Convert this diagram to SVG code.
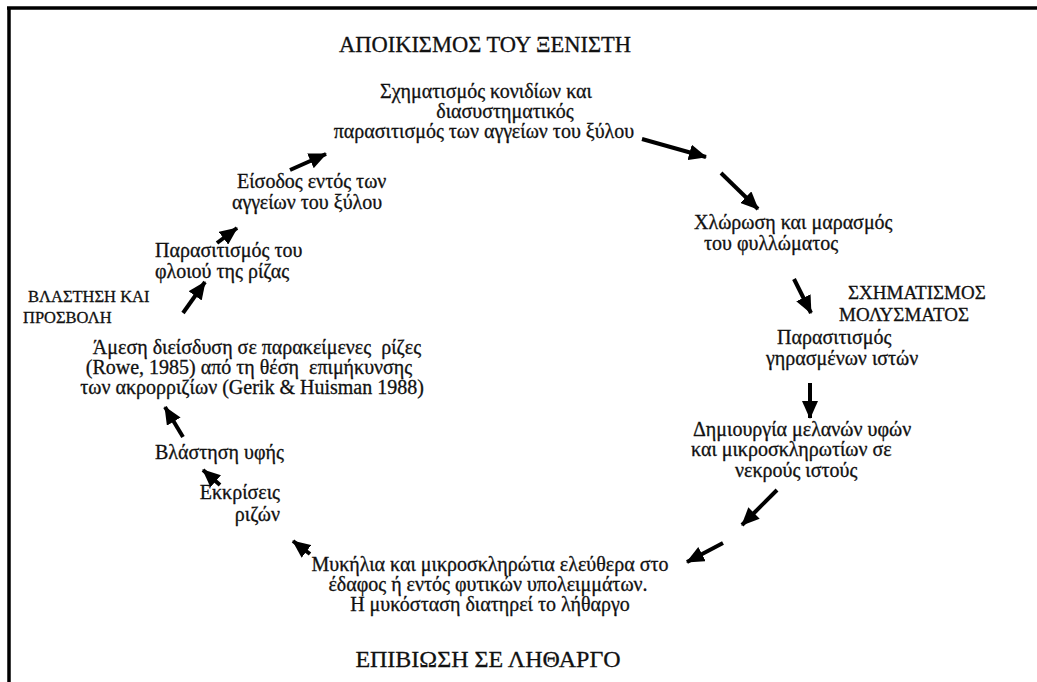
<svg xmlns="http://www.w3.org/2000/svg" width="1037" height="682" viewBox="0 0 1037 682">
<style>
.t text{font-family:'Liberation Serif','DejaVu Serif',serif;fill:#111;stroke:#111;stroke-width:0.3;font-size:20px}
.m{text-anchor:middle}
.e{text-anchor:end}
.t .h{font-size:22.5px}
.t .hb{font-size:24px}
.t .c{font-size:19px}
.t .s{font-size:16.5px}
.p{white-space:pre}
.frame{stroke:#000;stroke-width:3.5;fill:none}
.arr{stroke:#000;stroke-width:4;fill:none;marker-end:url(#ah)}
</style>
<defs>
<marker id="ah" markerUnits="userSpaceOnUse" markerWidth="18" markerHeight="16" viewBox="0 0 18 16" refX="17" refY="8" orient="auto">
<path d="M0,0 L18,8 L0,16 Z" fill="#000"/>
</marker>
</defs>
<rect width="1037" height="682" fill="#fff"/>
<g id="frame">
<line class="frame" x1="7" y1="8" x2="1037" y2="8"/>
<line class="frame" x1="9" y1="7" x2="9" y2="682"/>
</g>
<g class="t">
<g id="title-top"><text class="h m" x="485" y="52">ΑΠΟΙΚΙΣΜΟΣ ΤΟΥ ΞΕΝΙΣΤΗ</text></g>
<g id="n-conidia">
<text class="m" x="486" y="98">Σχηματισμός κονιδίων και</text>
<text class="m" x="505" y="118">διασυστηματικός</text>
<text class="m" x="484" y="138">παρασιτισμός των αγγείων του ξύλου</text>
</g>
<g id="n-chlorosis">
<text x="694" y="229">Χλώρωση και μαρασμός</text>
<text x="704" y="250">του φυλλώματος</text>
</g>
<g id="label-inoculum">
<text class="c" x="848" y="299">ΣΧΗΜΑΤΙΣΜΟΣ</text>
<text class="c" x="839" y="321">ΜΟΛΥΣΜΑΤΟΣ</text>
</g>
<g id="n-senescent">
<text x="777" y="344">Παρασιτισμός</text>
<text x="766" y="365">γηρασμένων ιστών</text>
</g>
<g id="n-hyphae">
<text x="693" y="436">Δημιουργία μελανών υφών</text>
<text x="691" y="456">και μικροσκληρωτίων σε</text>
<text x="735" y="477">νεκρούς ιστούς</text>
</g>
<g id="n-mycelia">
<text class="m" x="490" y="571">Μυκήλια και μικροσκληρώτια ελεύθερα στο</text>
<text class="m" x="488" y="591">έδαφος ή εντός φυτικών υπολειμμάτων.</text>
<text class="m" x="490" y="611">Η μυκόσταση διατηρεί το λήθαργο</text>
</g>
<g id="title-bottom"><text class="hb m" x="488" y="667">ΕΠΙΒΙΩΣΗ ΣΕ ΛΗΘΑΡΓΟ</text></g>
<g id="n-exudates">
<text class="e" x="280" y="499">Εκκρίσεις</text>
<text class="e" x="280" y="521">ριζών</text>
</g>
<g id="n-germination"><text x="155" y="459">Βλάστηση υφής</text></g>
<g id="n-penetration">
<text class="m p" x="257" y="354">Άμεση διείσδυση σε παρακείμενες  ρίζες</text>
<text class="m p" x="249" y="374">(Rowe, 1985) από τη θέση  επιμήκυνσης</text>
<text class="m" x="252" y="394">των ακρορριζίων (Gerik &amp; Huisman 1988)</text>
</g>
<g id="label-germination">
<text class="s" x="28" y="302">ΒΛΑΣΤΗΣΗ ΚΑΙ</text>
<text class="s" x="23" y="323">ΠΡΟΣΒΟΛΗ</text>
</g>
<g id="n-cortex">
<text x="155" y="257">Παρασιτισμός του</text>
<text x="155" y="278">φλοιού της ρίζας</text>
</g>
<g id="n-entry">
<text x="237" y="188">Είσοδος εντός των</text>
<text x="232" y="209">αγγείων του ξύλου</text>
</g>
</g>
<g id="connectors">
<line class="arr" x1="642" y1="139" x2="706" y2="157"/>
<line class="arr" x1="721" y1="173" x2="758" y2="209"/>
<line class="arr" x1="794" y1="279" x2="811" y2="313"/>
<line class="arr" x1="810" y1="383" x2="810" y2="418"/>
<line class="arr" x1="777" y1="490" x2="742" y2="525"/>
<line class="arr" x1="723" y1="543" x2="687" y2="562"/>
<line class="arr" x1="310" y1="554" x2="293" y2="541"/>
<line class="arr" x1="220" y1="485" x2="203" y2="470"/>
<line class="arr" x1="183" y1="437" x2="165" y2="407"/>
<line class="arr" x1="183" y1="313" x2="205" y2="282"/>
<line class="arr" x1="217" y1="243" x2="237" y2="228"/>
<line class="arr" x1="290" y1="170" x2="326" y2="154"/>
</g>
</svg>
